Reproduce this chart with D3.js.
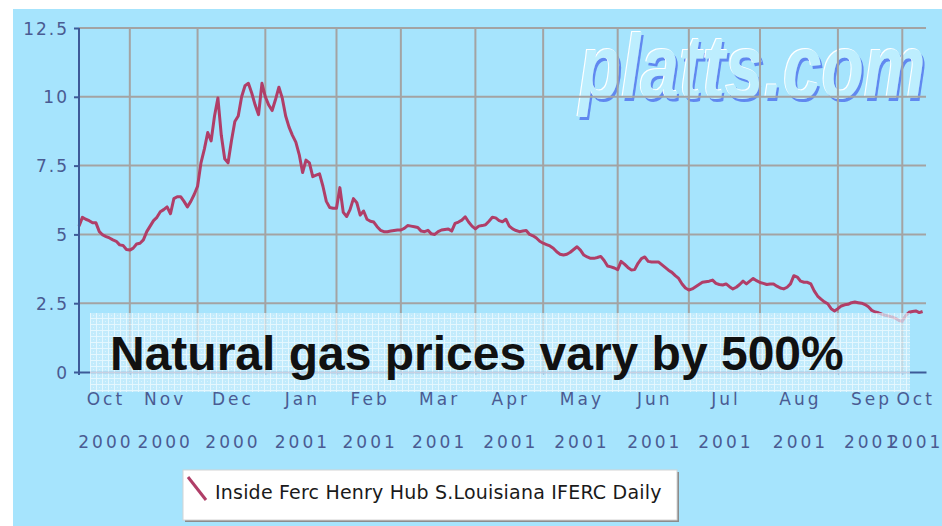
<!DOCTYPE html>
<html>
<head>
<meta charset="utf-8">
<script src="https://cdn.jsdelivr.net/npm/d3@7"></script>
<style>
  html, body { margin: 0; padding: 0; background: #ffffff; }
  svg { display: block; }
</style>
</head>
<body>
<svg id="chart" width="942" height="526"></svg>
<script>
// ---------------- DATA ----------------
const monthLabels = ["Oct", "Nov", "Dec", "Jan", "Feb", "Mar", "Apr", "May", "Jun", "Jul", "Aug", "Sep", "Oct"];
const yearLabels  = ["2000", "2000", "2000", "2001", "2001", "2001", "2001", "2001", "2001", "2001", "2001", "2001", "2001"];
// number of daily (trading-day) points shown in each month
const tradingDays = [15, 20, 20, 21, 19, 22, 20, 22, 21, 21, 23, 19, 7];
const yTicks = [0, 2.5, 5, 7.5, 10, 12.5];
const seriesName = "Inside Ferc Henry Hub S.Louisiana IFERC Daily";
const titleText = "Natural gas prices vary by 500%";
const watermark = "platts.com";
// daily prices ($/MMBtu)
const prices = [
  // Oct 2000
  5.3,5.62,5.55,5.5,5.42,5.42,5.1,4.98,4.92,4.87,4.8,4.75,4.62,4.6,4.45,
  // Nov 2000
  4.43,4.5,4.65,4.68,4.8,5.1,5.3,5.5,5.62,5.82,5.9,6.0,5.75,6.3,6.37,6.37,6.2,6.0,6.2,6.45,
  // Dec 2000
  6.75,7.6,8.1,8.7,8.4,9.3,9.96,8.6,7.75,7.6,8.4,9.1,9.3,10.0,10.4,10.49,10.13,9.7,9.35,10.49,
  // Jan 2001
  10.0,9.7,9.5,9.9,10.35,9.95,9.3,8.9,8.6,8.35,7.9,7.25,7.7,7.6,7.1,7.15,7.2,6.75,6.2,5.98,5.95,
  // Feb 2001
  5.95,6.7,5.8,5.65,5.9,6.3,6.15,5.7,5.85,5.55,5.48,5.45,5.28,5.15,5.1,5.1,5.12,5.14,5.16,
  // Mar 2001
  5.16,5.22,5.32,5.3,5.28,5.25,5.12,5.1,5.15,5.02,5.0,5.1,5.16,5.18,5.2,5.12,5.4,5.45,5.52,5.64,5.45,5.3,
  // Apr 2001
  5.2,5.3,5.32,5.35,5.48,5.62,5.6,5.5,5.46,5.55,5.3,5.2,5.14,5.1,5.12,5.14,5.0,4.95,4.87,4.75,
  // May 2001
  4.68,4.63,4.58,4.5,4.37,4.28,4.25,4.28,4.35,4.45,4.55,4.43,4.25,4.18,4.13,4.13,4.16,4.2,4.05,3.85,3.82,3.78,
  // Jun 2001
  3.72,4.02,3.92,3.8,3.71,3.72,3.95,4.12,4.18,4.02,4.0,4.0,4.0,3.9,3.8,3.7,3.62,3.5,3.4,3.2,3.05,
  // Jul 2001
  2.98,3.02,3.1,3.18,3.26,3.28,3.3,3.34,3.22,3.18,3.16,3.2,3.1,3.02,3.08,3.18,3.3,3.2,3.3,3.4,3.32,
  // Aug 2001
  3.25,3.22,3.18,3.2,3.2,3.12,3.05,3.02,3.08,3.2,3.5,3.45,3.3,3.26,3.26,3.2,2.95,2.76,2.65,2.55,2.48,2.3,2.22,
  // Sep 2001
  2.3,2.4,2.44,2.46,2.52,2.54,2.52,2.5,2.45,2.37,2.24,2.18,2.15,2.1,2.06,2.03,2.0,1.95,1.87,
  // Oct 2001
  1.84,2.05,2.17,2.2,2.22,2.16,2.2
];

// ---------------- LAYOUT ----------------
const W = 942, H = 526;
const plot = { left: 79, right: 926, top: 28, bottom: 372 };
const colors = {
  bg: "#a6e4fd", grid: "#a3a3a3", axis: "#3d5a98", label: "#4a5b92",
  line: "#b03e68", title: "#111111"
};

const svg = d3.select("#chart");

// month boundaries (index positions) derived from trading-day counts
const bounds = [0];
tradingDays.forEach(n => bounds.push(bounds[bounds.length - 1] + n));
const total = bounds[bounds.length - 1];

const x = d3.scaleLinear().domain([0, total]).range([plot.left, plot.right]);
const y = d3.scaleLinear().domain([0, 12.5]).range([plot.bottom, plot.top]);

// background panel
svg.append("rect").attr("x", 13).attr("y", 9).attr("width", W - 13).attr("height", H - 9)
  .attr("fill", colors.bg);

// defs
const defs = svg.append("defs");
const pat = defs.append("pattern").attr("id", "check").attr("patternUnits", "userSpaceOnUse")
  .attr("width", 6).attr("height", 6);
pat.append("rect").attr("width", 6).attr("height", 6).attr("fill", "#cdeefc");
pat.append("rect").attr("width", 6).attr("height", 1).attr("fill", "#ffffff").attr("opacity", 0.95);
pat.append("rect").attr("width", 1).attr("height", 6).attr("fill", "#ffffff").attr("opacity", 0.95);
pat.append("rect").attr("x", 3).attr("y", 3).attr("width", 1).attr("height", 1).attr("fill", "#ffffff").attr("opacity", 0.7);

// embossed look for the watermark: blue shadow down-right, white highlight up-left
const emb = defs.append("filter").attr("id", "emboss")
  .attr("x", "-5%").attr("y", "-10%").attr("width", "110%").attr("height", "120%");
emb.append("feOffset").attr("in", "SourceAlpha").attr("dx", 2.5).attr("dy", 2.5).attr("result", "o1");
emb.append("feFlood").attr("flood-color", "#6088f0").attr("result", "c1");
emb.append("feComposite").attr("in", "c1").attr("in2", "o1").attr("operator", "in").attr("result", "shadow");
emb.append("feOffset").attr("in", "SourceAlpha").attr("dx", -1.2).attr("dy", -1.2).attr("result", "o2");
emb.append("feFlood").attr("flood-color", "#ffffff").attr("result", "c2");
emb.append("feComposite").attr("in", "c2").attr("in2", "o2").attr("operator", "in").attr("result", "hl");
const mg = emb.append("feMerge");
mg.append("feMergeNode").attr("in", "shadow");
mg.append("feMergeNode").attr("in", "hl");
mg.append("feMergeNode").attr("in", "SourceGraphic");

// watermark (behind grid)
svg.append("text").attr("transform", "translate(579,98) scale(0.77,1)")
  .style("font-family", "'Liberation Sans', Arial, sans-serif")
  .style("font-weight", "bold").style("font-style", "italic").style("font-size", "90px")
  .attr("fill", "#bdeefe").attr("filter", "url(#emboss)")
  .text(watermark);

// grid
const grid = svg.append("g");
grid.selectAll("line.h").data(yTicks.filter(d => d > 0)).join("line")
  .attr("x1", plot.left).attr("x2", plot.right)
  .attr("y1", d => y(d)).attr("y2", d => y(d))
  .attr("stroke", colors.grid).attr("stroke-width", 2);
grid.selectAll("line.v").data(bounds.slice(1, -1)).join("line")
  .attr("x1", d => x(d)).attr("x2", d => x(d))
  .attr("y1", plot.top).attr("y2", plot.bottom)
  .attr("stroke", colors.grid).attr("stroke-width", 2);

// line
const lineGen = d3.line().x((d, i) => x(i)).y(d => y(d));
svg.append("path").datum(prices)
  .attr("d", lineGen).attr("fill", "none")
  .attr("stroke", colors.line).attr("stroke-width", 3).attr("stroke-linejoin", "round");

// axes
const yAxis = svg.append("g").attr("transform", `translate(${plot.left},0)`)
  .call(d3.axisLeft(y).tickValues(yTicks).tickSize(5).tickSizeOuter(0).tickPadding(5)
    .tickFormat(d => String(d)));
yAxis.select(".domain").attr("stroke", colors.axis).attr("stroke-width", 2)
  .attr("d", `M0,${plot.top}V${plot.bottom + 3}`);
yAxis.selectAll(".tick line").attr("stroke", colors.axis).attr("stroke-width", 2);
yAxis.selectAll(".tick text").attr("fill", colors.label)
  .style("font-family", "'DejaVu Sans', sans-serif").style("font-size", "17px")
  .style("letter-spacing", "2px").attr("dy", "0.36em");

const xAxis = svg.append("g").attr("transform", `translate(0,${plot.bottom})`)
  .call(d3.axisBottom(x).tickValues(bounds.slice(1, -1)).tickSize(3).tickSizeOuter(0).tickFormat(""));
xAxis.select(".domain").attr("stroke", colors.axis).attr("stroke-width", 2);
xAxis.selectAll(".tick line").attr("stroke", colors.axis).attr("stroke-width", 1);

// month / year labels centred in each month's visible span
const labelG = svg.append("g").attr("fill", colors.label)
  .style("font-family", "'DejaVu Sans', sans-serif").style("font-size", "17px")
  .style("letter-spacing", "3px").attr("text-anchor", "middle");
monthLabels.forEach((m, i) => {
  const cx = (x(bounds[i]) + x(bounds[i + 1])) / 2;
  labelG.append("text").attr("x", cx + 1.5).attr("y", 405).text(m);
  labelG.append("text").attr("x", cx + 1.5).attr("y", 448).text(yearLabels[i]);
});

// title overlay
svg.append("rect").attr("x", 90).attr("y", 313).attr("width", 820).attr("height", 79)
  .attr("fill", "url(#check)").attr("opacity", 0.72);
svg.append("text").attr("x", 110).attr("y", 370)
  .attr("fill", colors.title)
  .style("font-family", "'Liberation Sans', Arial, sans-serif")
  .style("font-weight", "bold").style("font-size", "48px")
  .text(titleText);

// legend
const lg = svg.append("g").attr("transform", "translate(183,470)");
lg.append("rect").attr("x", 2).attr("y", 2).attr("width", 494).attr("height", 50).attr("fill", "#8c8c8c");
lg.append("rect").attr("x", 0).attr("y", 0).attr("width", 494).attr("height", 50)
  .attr("fill", "#ffffff").attr("stroke", "#d4d4d4").attr("stroke-width", 1);
lg.append("line").attr("x1", 5).attr("y1", 7).attr("x2", 23).attr("y2", 30)
  .attr("stroke", colors.line).attr("stroke-width", 3);
lg.append("text").attr("x", 32).attr("y", 29).attr("fill", "#1a1a1a")
  .style("font-family", "'DejaVu Sans', sans-serif").style("font-size", "19px")
  .style("letter-spacing", "0.2px")
  .text(seriesName);
</script>
</body>
</html>
